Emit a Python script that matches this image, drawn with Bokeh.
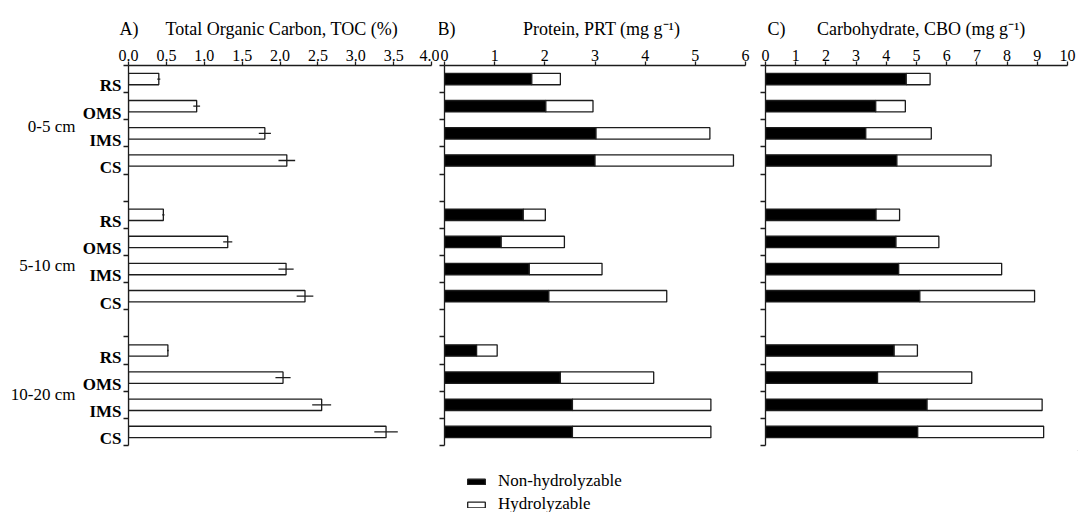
from bokeh.plotting import figure
from bokeh.models import (Range1d, LinearAxis, FixedTicker, PrintfTickFormatter,
                          Title, Legend, LegendItem, ColumnDataSource)
from bokeh.layouts import row, column
from bokeh.embed import file_html
from bokeh.resources import INLINE

# ---------------- data ----------------
depths = ["0-5 cm", "5-10 cm", "10-20 cm"]
samples = ["RS", "OMS", "IMS", "CS"]

# Total organic carbon (%) and error, order: depth x sample
toc = [0.40, 0.90, 1.80, 2.09,
       0.46, 1.31, 2.08, 2.33,
       0.52, 2.04, 2.55, 3.40]
toc_err = [0.02, 0.045, 0.08, 0.11,
           0.015, 0.06, 0.10, 0.11,
           0.01, 0.10, 0.125, 0.155]

# Protein (mg g-1)
prt_nonhyd = [1.74, 2.02, 3.02, 3.00,
              1.57, 1.13, 1.69, 2.08,
              0.64, 2.31, 2.55, 2.55]
prt_hyd = [0.57, 0.94, 2.27, 2.76,
           0.44, 1.26, 1.45, 2.35,
           0.41, 1.86, 2.76, 2.76]

# Carbohydrate (mg g-1)
cbo_nonhyd = [4.66, 3.65, 3.32, 4.35,
              3.66, 4.32, 4.41, 5.11,
              4.26, 3.71, 5.35, 5.04]
cbo_hyd = [0.79, 0.98, 2.17, 3.12,
           0.78, 1.42, 3.41, 3.80,
           0.77, 3.12, 3.81, 4.17]

toc_ticks = [0.0, 0.5, 1.0, 1.5, 2.0, 2.5, 3.0, 3.5, 4.0]
prt_ticks = [0, 1, 2, 3, 4, 5, 6]
cbo_ticks = [0, 1, 2, 3, 4, 5, 6, 7, 8, 9, 10]

panel_letters = ["A)", "B)", "C)"]
panel_titles = ["Total Organic Carbon, TOC (%)",
                "Protein, PRT (mg g\u207b\u00b9)",
                "Carbohydrate, CBO (mg g\u207b\u00b9)"]
legend_labels = ["Non-hydrolyzable", "Hydrolyzable"]

# ---------------- styling ----------------
FONT = "Liberation Serif"
INK = "#1c1c1c"
N_SLOTS = 14
BAR_H = 0.42
NB = "\u00a0"
FIG_H = 450

# slot layout: 4 bars per depth, one empty slot between depths
ypos = [g * 5 + j + 0.5 for g in range(len(depths)) for j in range(len(samples))]
lab_pos = [g * 5 + j + 0.75 for g in range(len(depths)) for j in range(len(samples))]
lab_txt = [s for _ in depths for s in samples]
group_pos = [2.25, 7.375, 12.125]

src = ColumnDataSource(dict(
    y=ypos,
    toc=toc,
    lo=[v - e for v, e in zip(toc, toc_err)],
    hi=[v + e for v, e in zip(toc, toc_err)],
    prt_nh=prt_nonhyd,
    prt_tot=[a + b for a, b in zip(prt_nonhyd, prt_hyd)],
    cbo_nh=cbo_nonhyd,
    cbo_tot=[a + b for a, b in zip(cbo_nonhyd, cbo_hyd)],
))


def make_fig(width, x_end, ticks, fmt, left, right, title_text, title_offset):
    p = figure(width=width, height=FIG_H,
               x_range=Range1d(0, x_end), y_range=Range1d(N_SLOTS, 0),
               x_axis_location=None, y_axis_location=None,
               toolbar_location=None, output_backend="svg",
               min_border_left=left, min_border_right=right,
               min_border_top=65, min_border_bottom=FIG_H - 65 - 380,
               outline_line_color=None, background_fill_color="white")
    p.grid.grid_line_color = None
    p.grid.visible = False
    top = LinearAxis(ticker=FixedTicker(ticks=ticks),
                     formatter=PrintfTickFormatter(format=fmt),
                     major_tick_in=0, major_tick_out=4,
                     minor_tick_line_color=None,
                     major_label_standoff=1,
                     major_label_text_font=FONT,
                     major_label_text_font_size="16px",
                     major_label_text_color="black",
                     axis_line_color=INK, axis_line_width=1.3,
                     major_tick_line_color=INK, major_tick_line_width=1.3)
    p.add_layout(top, "above")
    yax = LinearAxis(ticker=FixedTicker(ticks=list(range(N_SLOTS + 1))),
                     major_label_overrides={i: "" for i in range(N_SLOTS + 1)},
                     major_tick_in=0, major_tick_out=5,
                     minor_tick_line_color=None,
                     major_label_standoff=0,
                     axis_line_color=INK, axis_line_width=1.3,
                     major_tick_line_color=INK, major_tick_line_width=1.3)
    p.add_layout(yax, "left")
    p.add_layout(Title(text=title_text, align="left", offset=title_offset,
                       text_font=FONT, text_font_size="18px",
                       text_font_style="normal", text_color="black",
                       standoff=16), "above")
    return p


# ---------------- panel A ----------------
pa = make_fig(439, 4.0, toc_ticks, "%.1f", 128, 8,
              panel_letters[0] + NB * 6 + panel_titles[0], -9)
lab_axis = LinearAxis(ticker=FixedTicker(ticks=lab_pos),
                      major_label_overrides=dict(zip(lab_pos, lab_txt)),
                      axis_line_color=None, major_tick_line_color=None,
                      minor_tick_line_color=None, major_tick_out=0, major_tick_in=0,
                      major_label_standoff=2,
                      major_label_text_font=FONT, major_label_text_font_style="bold",
                      major_label_text_font_size="17px", major_label_text_color="black")
pa.add_layout(lab_axis, "left")
grp_axis = LinearAxis(ticker=FixedTicker(ticks=group_pos),
                      major_label_overrides=dict(zip(group_pos, depths)),
                      axis_line_color=None, major_tick_line_color=None,
                      minor_tick_line_color=None, major_tick_out=0, major_tick_in=0,
                      major_label_standoff=4,
                      major_label_text_font=FONT,
                      major_label_text_font_size="17px", major_label_text_color="black")
pa.add_layout(grp_axis, "left")
pa.hbar(y="y", left=0, right="toc", height=BAR_H, fill_color="white",
        line_color=INK, line_width=1.3, source=src)
pa.segment(x0="lo", y0="y", x1="hi", y1="y", line_color=INK, line_width=1.3, source=src)

# ---------------- panel B ----------------
pb = make_fig(319, 6, prt_ticks, "%d", 5, 13,
              panel_letters[1] + NB * 15 + panel_titles[1], -7)
pb.hbar(y="y", left=0, right="prt_nh", height=BAR_H, fill_color="black",
        line_color=INK, line_width=1.3, source=src)
pb.hbar(y="y", left="prt_nh", right="prt_tot", height=BAR_H, fill_color="white",
        line_color=INK, line_width=1.3, source=src)

# ---------------- panel C ----------------
pc = make_fig(320, 10, cbo_ticks, "%d", 7, 11,
              panel_letters[2] + NB * 7 + panel_titles[2], 2)
pc.hbar(y="y", left=0, right="cbo_nh", height=BAR_H, fill_color="black",
        line_color=INK, line_width=1.3, source=src)
pc.hbar(y="y", left="cbo_nh", right="cbo_tot", height=BAR_H, fill_color="white",
        line_color=INK, line_width=1.3, source=src)

# ---------------- legend strip ----------------
LEG_W, LEG_H = 1078, 62
pl = figure(width=LEG_W, height=LEG_H, x_range=Range1d(0, 1), y_range=Range1d(0, 1),
            x_axis_location=None, y_axis_location=None,
            toolbar_location=None, output_backend="svg",
            min_border=0, outline_line_color=None, background_fill_color="white")
pl.grid.visible = False
# swatch renderers for the key: a single bar kept well outside the visible ranges
swatch = ColumnDataSource(dict(y=[5.0], left=[3.0], right=[3.1]))
r_nh = pl.hbar(y="y", left="left", right="right", height=0.5, fill_color="black",
               line_color=INK, line_width=1.3, source=swatch)
r_hy = pl.hbar(y="y", left="left", right="right", height=0.5, fill_color="white",
               line_color=INK, line_width=1.3, source=swatch)
legend = Legend(items=[LegendItem(label=legend_labels[0], renderers=[r_nh]),
                       LegendItem(label=legend_labels[1], renderers=[r_hy])],
                location=(465, -2), orientation="vertical",
                glyph_width=22, glyph_height=7, label_standoff=11,
                label_height=18, spacing=3, padding=0, margin=0,
                label_text_font=FONT, label_text_font_size="17px",
                label_text_color="black",
                border_line_color=None, background_fill_alpha=0)
pl.add_layout(legend)

layout = column(row(pa, pb, pc), pl)
open("out.html", "w").write(file_html(layout, INLINE))
